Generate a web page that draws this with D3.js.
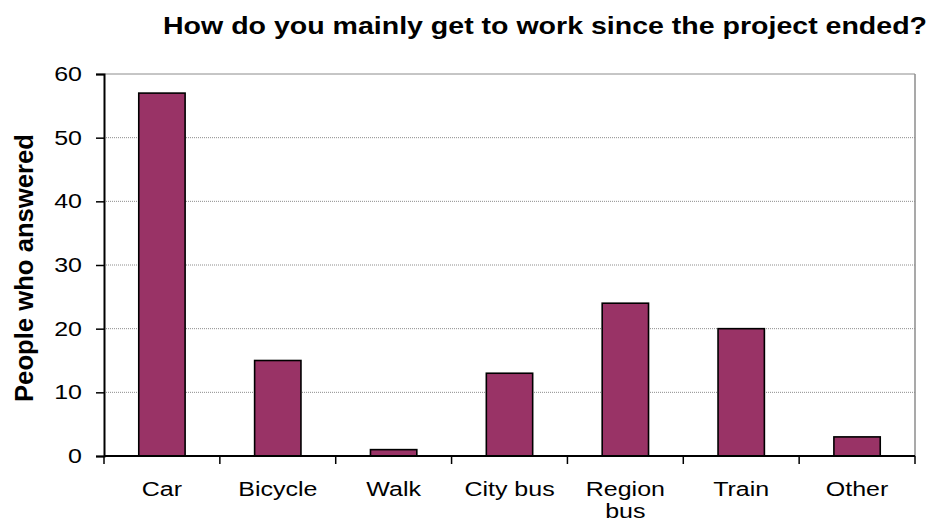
<!DOCTYPE html>
<html>
<head>
<meta charset="utf-8">
<script src="https://cdn.jsdelivr.net/npm/d3@7"></script>
<style>
  html, body { margin: 0; padding: 0; background: #fff; }
  svg { display: block; font-family: "Liberation Sans", Arial, sans-serif; }
</style>
</head>
<body>
<svg id="chart" width="932" height="522"></svg>
<script>
// Survey answers: main commute mode after the project
const categories = ["Car", "Bicycle", "Walk", "City bus", "Region bus", "Train", "Other"];
const answers = [57, 15, 1, 13, 24, 20, 3];
const yTicks = [0, 10, 20, 30, 40, 50, 60];

const svg = d3.select("#chart");
const plot = { left: 104, right: 915, top: 74, bottom: 456 };
const wide = 1.25; // horizontal stretch applied to the labels

const x = d3.scaleBand()
  .domain(categories)
  .range([plot.left, plot.right])
  .paddingInner(0.6)
  .paddingOuter(0.3);

const y = d3.scaleLinear().domain([0, 60]).range([plot.bottom, plot.top]);

// Horizontal gridlines
svg.append("g")
  .selectAll("line")
  .data(yTicks.filter(t => t > 0))
  .join("line")
  .attr("x1", plot.left).attr("x2", plot.right)
  .attr("y1", d => y(d)).attr("y2", d => y(d))
  .attr("stroke", "#8c8c8c")
  .attr("stroke-width", 1)
  .attr("stroke-dasharray", d => d === 60 ? null : "1,1");

// Right border of the plot area
svg.append("line")
  .attr("x1", plot.right).attr("x2", plot.right)
  .attr("y1", plot.top).attr("y2", plot.bottom)
  .attr("stroke", "#8c8c8c").attr("stroke-width", 1.5);

// Bars
svg.append("g")
  .selectAll("rect")
  .data(categories.map((c, i) => ({ c, v: answers[i] })))
  .join("rect")
  .attr("x", d => x(d.c))
  .attr("y", d => y(d.v))
  .attr("width", x.bandwidth())
  .attr("height", d => y(0) - y(d.v))
  .attr("fill", "#993366")
  .attr("stroke", "#000")
  .attr("stroke-width", 1.6);

// Y axis
const yAxis = d3.axisLeft(y).tickValues(yTicks).tickSize(8).tickPadding(9.6);
const gy = svg.append("g").attr("transform", `translate(${plot.left},0)`).call(yAxis);
gy.select(".domain").attr("stroke", "#000").attr("stroke-width", 2);
gy.selectAll(".tick line").attr("stroke", "#000").attr("stroke-width", 1.5);
gy.selectAll(".tick text")
  .attr("font-size", 20)
  .attr("fill", "#000")
  .attr("font-family", "'Liberation Sans', Arial, sans-serif")
  .attr("transform", `scale(${wide},1)`);

// X axis: ticks sit on the category boundaries
const boundaries = d3.range(categories.length + 1)
  .map(i => plot.left + i * (plot.right - plot.left) / categories.length);
svg.append("line")
  .attr("x1", plot.left).attr("x2", plot.right)
  .attr("y1", plot.bottom).attr("y2", plot.bottom)
  .attr("stroke", "#000").attr("stroke-width", 2);
svg.append("g")
  .selectAll("line")
  .data(boundaries)
  .join("line")
  .attr("x1", d => d).attr("x2", d => d)
  .attr("y1", plot.bottom).attr("y2", plot.bottom + 8)
  .attr("stroke", "#000").attr("stroke-width", 1.5);

// Category labels (wrapped like "Region / bus")
const labelLines = { "Region bus": ["Region", "bus"] };
svg.append("g")
  .selectAll("text")
  .data(categories)
  .join("text")
  .attr("transform", d => `translate(${x(d) + x.bandwidth() / 2},496) scale(${wide},1)`)
  .attr("text-anchor", "middle")
  .attr("font-size", 20)
  .attr("fill", "#000")
  .each(function(d) {
    const lines = labelLines[d] || [d];
    const t = d3.select(this);
    lines.forEach((ln, i) => {
      t.append("tspan").attr("x", 0).attr("dy", i === 0 ? 0 : 22).text(ln);
    });
  });

// Title
svg.append("text")
  .attr("x", 163)
  .attr("y", 34)
  .attr("font-size", 24)
  .attr("font-weight", "bold")
  .attr("fill", "#000")
  .attr("textLength", 764)
  .attr("lengthAdjust", "spacingAndGlyphs")
  .text("How do you mainly get to work since the project ended?");

// Y axis title
svg.append("text")
  .attr("transform", `translate(33,268) rotate(-90)`)
  .attr("text-anchor", "middle")
  .attr("font-size", 26)
  .attr("font-weight", "bold")
  .attr("fill", "#000")
  .attr("textLength", 268)
  .attr("lengthAdjust", "spacingAndGlyphs")
  .text("People who answered");
</script>
</body>
</html>
